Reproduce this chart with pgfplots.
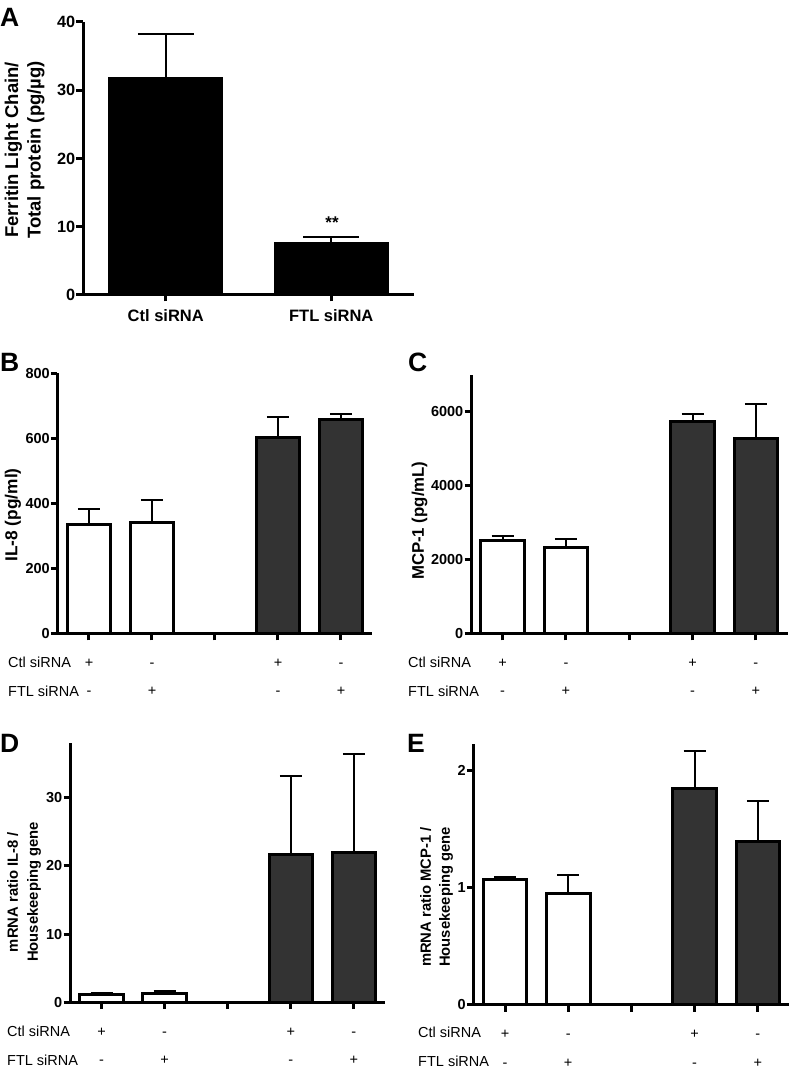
\documentclass[border=0pt]{standalone}
\usepackage{pgfplots}
\pgfplotsset{compat=1.18}
\usepackage{fontspec}
\setmainfont{Liberation Sans}
\definecolor{darkbar}{RGB}{51,51,51}
\newcommand\rowf{\fontsize{14.5}{17}\selectfont}
\pgfplotsset{
  panel/.style={
    scale only axis, axis lines*=left, clip=false,
    axis line style={line width=3pt, black},
    every tick/.style={black, line width=3pt},
    major tick length=6.5pt, tick align=outside,
    /pgf/number format/assume math mode=true,
    /pgf/number format/1000 sep={},
    scaled y ticks=false,
    yticklabel style={font=\bfseries\fontsize{14.5}{14.5}\selectfont, inner sep=1pt},
    xticklabel style={font=\bfseries\fontsize{16.5}{16.5}\selectfont},
    ymin=0,
  },
  smallpanel/.style={panel, xmin=-0.5, xmax=4.5, xtick={0,1,2,3,4},
    xticklabels={\empty,\empty,\empty,\empty,\empty}},
  errs/.style={error bars/.cd, y dir=plus, y explicit, error mark=|,
    error bar style={line width=2pt, black},
    error mark options={line width=2pt, black, mark size=#1}},
  wbar/.style={ybar, bar width=0.69, fill=white, draw=black, line width=3pt},
  dbar/.style={ybar, bar width=0.69, fill=darkbar, draw=black, line width=3pt},
}
\tikzset{
  pm/.style={anchor=base, font=\rowf, inner sep=0pt},
  rowlab/.style={anchor=base west, font=\rowf, inner sep=0pt},
  plab/.style={anchor=base west, inner sep=0pt, font=\bfseries\fontsize{26.5}{26.5}\selectfont},
}
\newcommand\pmrows{%
  \node[pm] at (axis cs:0,0) [yshift=-33.5pt] {+};
  \node[pm] at (axis cs:1,0) [yshift=-33.5pt] {-};
  \node[pm] at (axis cs:3,0) [yshift=-33.5pt] {+};
  \node[pm] at (axis cs:4,0) [yshift=-33.5pt] {-};
  \node[pm] at (axis cs:0,0) [yshift=-62pt] {-};
  \node[pm] at (axis cs:1,0) [yshift=-62pt] {+};
  \node[pm] at (axis cs:3,0) [yshift=-62pt] {-};
  \node[pm] at (axis cs:4,0) [yshift=-62pt] {+};
}
\begin{document}
\begin{tikzpicture}[x=1pt,y=1pt]
\useasboundingbox (0,0) rectangle (790,1073);
% ---------------- A ----------------
\begin{axis}[panel, at={(83pt,778pt)}, anchor=south west,
  width=331pt, height=273pt, xmin=-0.5, xmax=1.5, ymax=40,
  ytick={0,10,20,30,40}, xtick={0,1}, xticklabels={Ctl siRNA,FTL siRNA},
  yticklabel style={font=\bfseries\fontsize{16.3}{16.3}\selectfont},
  xticklabel style={yshift=-5pt}]
\addplot[ybar, bar width=0.675, fill=black, draw=black, line width=3pt, errs=28pt]
  coordinates {(0,31.7) +- (0,6.5) (1,7.5) +- (0,1.0)};
\end{axis}
\node[plab] at (0,1046) {A};
\node[rotate=90, align=center, font=\bfseries\fontsize{18.5}{22.5}\selectfont] at (24.75,923) {Ferritin Light Chain/\\Total protein (pg/µg)};
\node[anchor=base, font=\bfseries\fontsize{17}{17}\selectfont] at (332,844) {**};
% ---------------- B ----------------
\begin{axis}[smallpanel, at={(57.5pt,439pt)}, anchor=south west,
  width=315pt, height=260.7pt, ymax=800, ytick={0,200,400,600,800}]
\addplot[wbar, errs=11pt] coordinates {(0,335) +- (0,48) (1,342) +- (0,69)};
\addplot[dbar, errs=11pt] coordinates {(3,604) +- (0,61) (4,659) +- (0,16)};
\pmrows
\end{axis}
\node[plab] at (0,701) {B};
\node[rotate=90, font=\bfseries\fontsize{17.3}{17.3}\selectfont] at (13,558) {IL-8 (pg/ml)};
\node[rowlab] at (8,405.8) {Ctl siRNA};
\node[rowlab] at (8,376.8) {FTL siRNA};
% ---------------- C ----------------
\begin{axis}[smallpanel, at={(471pt,439pt)}, anchor=south west,
  width=316.5pt, height=259pt, ymax=7000, ytick={0,2000,4000,6000}]
\addplot[wbar, errs=11pt] coordinates {(0,2522) +- (0,127) (1,2342) +- (0,226)};
\addplot[dbar, errs=11pt] coordinates {(3,5748) +- (0,207) (4,5288) +- (0,919)};
\pmrows
\end{axis}
\node[plab] at (408,701) {C};
\node[rotate=90, font=\bfseries\fontsize{16.8}{16.8}\selectfont] at (419.5,552.3) {MCP-1 (pg/mL)};
\node[rowlab] at (408,405.8) {Ctl siRNA};
\node[rowlab] at (408,376.8) {FTL siRNA};
% ---------------- D ----------------
\begin{axis}[smallpanel, at={(70pt,70.3pt)}, anchor=south west,
  width=315.4pt, height=260pt, ymax=38, ytick={0,10,20,30}]
\addplot[wbar, errs=11pt] coordinates {(0,1.2) +- (0,0.15) (1,1.4) +- (0,0.3)};
\addplot[dbar, errs=11pt] coordinates {(3,21.6) +- (0,11.6) (4,21.9) +- (0,14.4)};
\pmrows
\end{axis}
\node[plab] at (0,320) {D};
\node[rotate=90, align=center, font=\bfseries\fontsize{14.8}{20}\selectfont] at (24,181) {mRNA ratio IL-8 /\\Housekeeping gene};
\node[rowlab] at (7,36.1) {Ctl siRNA};
\node[rowlab] at (7,7.8) {FTL siRNA};
% ---------------- E ----------------
\begin{axis}[smallpanel, at={(473.4pt,68pt)}, anchor=south west,
  width=316pt, height=261pt, ymax=2.23, ytick={0,1,2}]
\addplot[wbar, errs=11pt] coordinates {(0,1.07) +- (0,0.02) (1,0.955) +- (0,0.155)};
\addplot[dbar, errs=11pt] coordinates {(3,1.85) +- (0,0.32) (4,1.40) +- (0,0.34)};
\pmrows
\end{axis}
\node[plab] at (407,320) {E};
\node[rotate=90, align=center, font=\bfseries\fontsize{14.8}{19}\selectfont] at (436.5,176) {mRNA ratio MCP-1 /\\Housekeeping gene};
\node[rowlab] at (418,35) {Ctl siRNA};
\node[rowlab] at (418,6.8) {FTL siRNA};
\end{tikzpicture}
\end{document}
